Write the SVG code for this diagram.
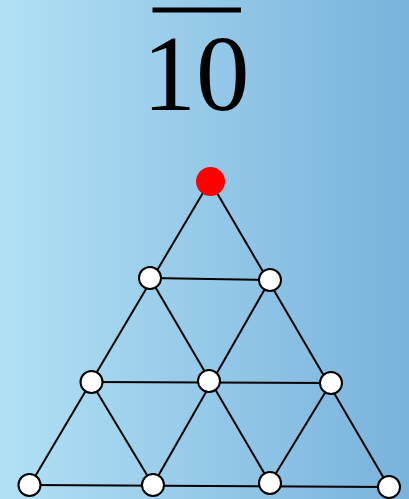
<svg xmlns="http://www.w3.org/2000/svg" width="409" height="499" viewBox="0 0 409 499">
<defs>
<linearGradient id="bg" x1="0" y1="0" x2="1" y2="0">
<stop offset="0" stop-color="#b2e1f5"/>
<stop offset="1" stop-color="#79b2dc"/>
</linearGradient>
<style>
.e{stroke:#000;stroke-width:2;fill:none}
.n{fill:#fff;stroke:#000;stroke-width:2}
</style>
</defs>
<rect width="409" height="499" fill="url(#bg)"/>
<g id="title">
<rect x="152.5" y="7.5" width="88.5" height="5" fill="#000"/>
<text x="196" y="110" font-family="Liberation Serif, serif" font-size="107" text-anchor="middle" fill="#000">10</text>
</g>
<g id="connectors">
<line class="e" x1="210" y1="181" x2="30" y2="485"/>
<line class="e" x1="210" y1="181" x2="389" y2="487"/>
<line class="e" x1="150" y1="278" x2="270" y2="280"/>
<line class="e" x1="91" y1="382" x2="331" y2="383"/>
<line class="e" x1="30" y1="485" x2="389" y2="487"/>
<line class="e" x1="150" y1="278" x2="270" y2="483"/>
<line class="e" x1="270" y1="280" x2="153" y2="485"/>
<line class="e" x1="91" y1="382" x2="153" y2="485"/>
<line class="e" x1="331" y1="383" x2="270" y2="483"/>
</g>
<g id="n1"><circle cx="210.5" cy="181.5" r="14.5" fill="#ff0000"/></g>
<g id="n2"><circle class="n" cx="150" cy="278" r="11"/></g>
<g id="n3"><circle class="n" cx="270" cy="280" r="11"/></g>
<g id="n4"><circle class="n" cx="91.5" cy="382" r="11"/></g>
<g id="n5"><circle class="n" cx="209" cy="381" r="11"/></g>
<g id="n6"><circle class="n" cx="331" cy="383" r="11"/></g>
<g id="n7"><circle class="n" cx="29.5" cy="485" r="11"/></g>
<g id="n8"><circle class="n" cx="153" cy="485" r="11"/></g>
<g id="n9"><circle class="n" cx="270" cy="483" r="11"/></g>
<g id="n10"><circle class="n" cx="389" cy="487" r="11"/></g>
</svg>
